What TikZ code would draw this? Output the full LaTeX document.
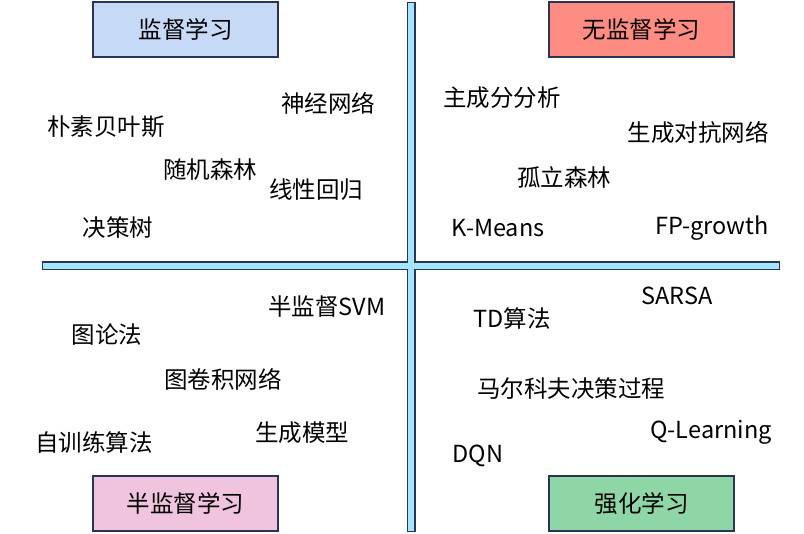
\documentclass[tikz,border=0pt]{standalone}
\usepackage{fontspec}
\setmainfont{Noto Sans CJK SC}
\definecolor{rand}{HTML}{2B3452}
\definecolor{achse}{HTML}{A4E6FF}
\definecolor{blaubox}{HTML}{C6DAF8}
\definecolor{rotbox}{HTML}{FF8C82}
\definecolor{rosabox}{HTML}{F0C4DE}
\definecolor{gruenbox}{HTML}{8ED6A6}
\tikzset{
	kasten/.style={draw=rand,line width=1.5pt,minimum width=185pt,minimum height=55pt,inner sep=0pt},
	wort/.style={inner sep=0pt,anchor=center}
}

\begin{document}
\begin{tikzpicture}[x=1pt,y=-1pt,font=\fontsize{23.5}{27}\selectfont]
\useasboundingbox (0,0) rectangle (804,534);
% Achsenkreuz
\coordinate (oben) at (411,2);
\coordinate (unten) at (411,532);
\coordinate (links) at (42,266);
\coordinate (rechts) at (780,266);
\draw[color=rand,line width=9pt] (oben) -- (unten);
\draw[color=rand,line width=9pt] (links) -- (rechts);
\draw[color=achse,line width=6.5pt,shorten <=1.2pt,shorten >=1.2pt] (oben) -- (unten);
\draw[color=achse,line width=6.5pt,shorten <=1.2pt,shorten >=1.2pt] (links) -- (rechts);
%
\node[kasten,fill=blaubox] (ueberwacht) at (185.5,29.5) {监督学习};
\node[kasten,fill=rotbox] (unueberwacht) at (641.5,29.5) {无监督学习};
\node[kasten,fill=rosabox] (halb) at (185.5,503.5) {半监督学习};
\node[kasten,fill=gruenbox] (verstaerkt) at (641.5,503.5) {强化学习};
%
\node[wort] (bayes) at (106,127) {朴素贝叶斯};
\node[wort] (neuronal) at (328,103) {神经网络};
\node[wort] (wald) at (210,170) {随机森林};
\node[wort] (linear) at (316,190) {线性回归};
\node[wort] (baum) at (118,228) {决策树};
%
\node[wort] (pca) at (502,98) {主成分分析};
\node[wort] (gan) at (698,133) {生成对抗网络};
\node[wort] (iwald) at (564,178) {孤立森林};
\node[wort] (kmeans) at (498,228) {K-Means};
\node[wort] (fpg) at (712,228) {FP-growth};
%
\node[wort] (svm) at (327,307) {半监督SVM};
\node[wort] (graph) at (107,335) {图论法};
\node[wort] (gcn) at (223,379) {图卷积网络};
\node[wort] (selbst) at (94,443) {自训练算法};
\node[wort] (gen) at (302,433) {生成模型};
%
\node[wort] (sarsa) at (677,296) {SARSA};
\node[wort] (td) at (512,319) {TD算法};
\node[wort] (markov) at (571,389) {马尔科夫决策过程};
\node[wort] (ql) at (711,432) {Q-Learning};
\node[wort] (dqn) at (478,456) {DQN};
\end{tikzpicture}
\end{document}
